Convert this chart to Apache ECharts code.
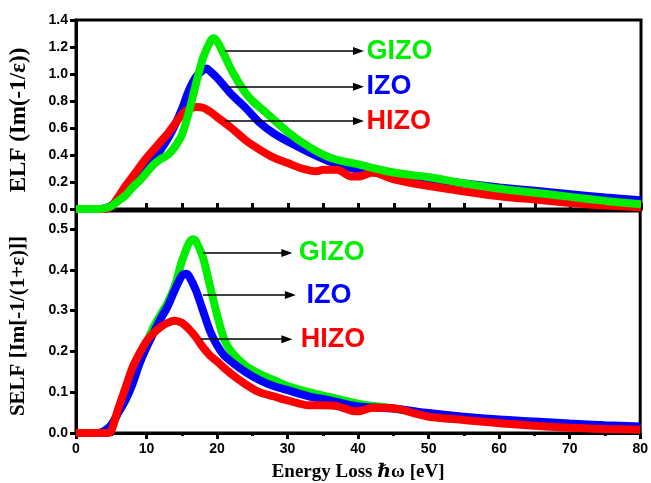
<!DOCTYPE html>
<html><head><meta charset="utf-8">
<script src="https://cdn.jsdelivr.net/npm/echarts@6/dist/echarts.min.js"></script>
<style>html,body{margin:0;padding:0;background:#fff}#c{width:651px;height:483px}</style>
</head><body><div id="c"></div>
<script>
// ---- ELF (top panel) ----
const elfGizoX = [0,3,4,5,6,7,8,9,10,11,12,13,14,15,16,17,18,19,19.5,20,21,22,23,24,25,27,30,33,36,40,45,50,55,60,65,70,75,80];
const elfGizoY = [0,0,0.005,0.02,0.06,0.1,0.16,0.21,0.27,0.33,0.37,0.40,0.46,0.55,0.72,0.93,1.12,1.24,1.265,1.24,1.14,1.03,0.94,0.86,0.80,0.71,0.57,0.46,0.38,0.33,0.27,0.235,0.19,0.15,0.12,0.09,0.06,0.035];
const elfIzoX = [0,3,4,5,6,7,8,9,10,11,12,13,14,15,16,17,18,18.5,19,20,21,22,24,26,28,30,33,36,40,45,50,55,60,65,70,75,80];
const elfIzoY = [0,0,0.005,0.025,0.07,0.13,0.19,0.25,0.31,0.37,0.44,0.52,0.62,0.74,0.88,0.98,1.03,1.04,1.02,0.97,0.91,0.85,0.75,0.64,0.56,0.50,0.42,0.35,0.29,0.25,0.22,0.19,0.16,0.135,0.11,0.085,0.065];
const elfHizoX = [0,4,5,6,7,8,9,10,11,12,13,14,15,16,17,18,19,20,22,24,26,28,30,32,34,35,37,39,40,42,45,50,55,60,65,70,75,80];
const elfHizoY = [0,0,0.02,0.09,0.17,0.24,0.31,0.38,0.44,0.50,0.56,0.63,0.70,0.74,0.755,0.75,0.72,0.68,0.60,0.51,0.44,0.38,0.34,0.30,0.28,0.29,0.29,0.24,0.24,0.27,0.22,0.17,0.13,0.095,0.07,0.045,0.025,0.012];

// ---- SELF (bottom panel) ----
const selfGizoX = [0,3,4,5,6,7,8,9,10,11,12,13,14,15,16,16.6,17,18,19,20,21,22,24,26,28,30,33,36,40,45,50,55,60,65,70,75,80];
const selfGizoY = [0,0,0.005,0.02,0.05,0.08,0.12,0.17,0.22,0.26,0.29,0.32,0.36,0.42,0.465,0.475,0.47,0.43,0.36,0.29,0.23,0.20,0.165,0.145,0.13,0.115,0.10,0.088,0.072,0.06,0.047,0.038,0.031,0.025,0.02,0.016,0.013];
const selfIzoX = [0,3,4,5,6,7,8,9,10,11,12,13,14,15,15.6,16,17,18,19,20,21,22,24,26,28,30,33,36,40,45,50,55,60,65,70,75,80];
const selfIzoY = [0,0,0.005,0.02,0.05,0.08,0.12,0.17,0.21,0.245,0.28,0.31,0.35,0.385,0.39,0.385,0.35,0.30,0.25,0.215,0.19,0.175,0.15,0.13,0.115,0.105,0.09,0.08,0.065,0.06,0.049,0.04,0.033,0.028,0.023,0.019,0.016];
const selfHizoX = [0,4.5,5,6,7,8,9,10,11,12,13,14,15,16,17,18,19,20,22,24,26,28,30,33,35,37,39,40,42,44,46,48,50,55,60,65,70,75,80];
const selfHizoY = [0,0,0.005,0.06,0.11,0.16,0.195,0.225,0.245,0.26,0.27,0.275,0.27,0.255,0.235,0.21,0.19,0.175,0.145,0.12,0.10,0.09,0.08,0.068,0.068,0.066,0.055,0.053,0.062,0.062,0.058,0.048,0.04,0.032,0.024,0.018,0.013,0.01,0.008];

// tick labels / annotation texts
const elfTicks = ['0.0','0.2','0.4','0.6','0.8','1.0','1.2','1.4'];
const selfTicks = ['0.0','0.1','0.2','0.3','0.4','0.5'];
const energyTicks = ['0','10','20','30','40','50','60','70','80'];
const sampleNames = ['GIZO','IZO','HIZO'];
const sampleColors = ['#00ee00','#0000ff','#ff0000'];
// annotation arrows in data units: [xStart, xEnd, y]
const elfArrows = [[21.1,40.0,1.17],[21.4,40.0,0.906],[21.1,40.0,0.651]];
const selfArrows = [[18.0,29.9,0.441],[18.0,30.4,0.338],[17.6,29.9,0.230]];
const selfLabelGap = [12,16,14];

const zip = (xs, ys) => xs.map((x,i)=>[x, ys[i]]);

const lbl = {fontFamily:'Liberation Sans, Arial, sans-serif', fontWeight:'bold', fontSize:14, color:'#000'};

function arrowLine(arr, idx, gap, axisIdx){
  const a = arr[idx];
  return {
    type:'line', xAxisIndex: axisIdx, yAxisIndex: axisIdx, data: [], silent:true,
    markLine: {
      silent:true, animation:false, symbol:['none','triangle'], symbolSize:[8,11],
      lineStyle:{color:'#000', width:1.5, type:'solid'},
      label:{show:true, position:'end', distance:gap, formatter:sampleNames[idx], color:sampleColors[idx],
             fontFamily:'Liberation Sans, Arial, sans-serif', fontWeight:'bold', fontSize:27},
      emphasis:{disabled:true},
      data:[[{coord:[a[0],a[2]]},{coord:[a[1],a[2]]}]]
    }
  };
}

const lw = 8;
const series = [
  {type:'line', xAxisIndex:0, yAxisIndex:0, data:zip(elfIzoX, elfIzoY), showSymbol:false, smooth:0.3, lineStyle:{color:sampleColors[1], width:lw}, itemStyle:{color:sampleColors[1]}},
  {type:'line', xAxisIndex:0, yAxisIndex:0, data:zip(elfHizoX, elfHizoY), showSymbol:false, smooth:0.3, lineStyle:{color:sampleColors[2], width:lw}, itemStyle:{color:sampleColors[2]}},
  {type:'line', xAxisIndex:0, yAxisIndex:0, data:zip(elfGizoX, elfGizoY), showSymbol:false, smooth:0.3, lineStyle:{color:sampleColors[0], width:lw}, itemStyle:{color:sampleColors[0]}},
  {type:'line', xAxisIndex:1, yAxisIndex:1, data:zip(selfGizoX, selfGizoY), showSymbol:false, smooth:0.3, lineStyle:{color:sampleColors[0], width:lw}, itemStyle:{color:sampleColors[0]}},
  {type:'line', xAxisIndex:1, yAxisIndex:1, data:zip(selfIzoX, selfIzoY), showSymbol:false, smooth:0.3, lineStyle:{color:sampleColors[1], width:lw}, itemStyle:{color:sampleColors[1]}},
  {type:'line', xAxisIndex:1, yAxisIndex:1, data:zip(selfHizoX, selfHizoY), showSymbol:false, smooth:0.3, lineStyle:{color:sampleColors[2], width:lw}, itemStyle:{color:sampleColors[2]}},
];
for (let i=0;i<3;i++){ series.push(arrowLine(elfArrows, i, 8, 0)); }
for (let i=0;i<3;i++){ series.push(arrowLine(selfArrows, i, selfLabelGap[i], 1)); }

const chart = echarts.init(document.getElementById('c'), null, {renderer:'canvas'});
chart.setOption({
  animation:false,
  backgroundColor:'#fff',
  grid:[
    {left:76, right:10, top:20, height:189, show:true, borderColor:'#000', borderWidth:3, backgroundColor:'transparent'},
    {left:76, right:10, top:211, height:222, show:true, borderColor:'#000', borderWidth:3, backgroundColor:'transparent'}
  ],
  xAxis:[
    {type:'value', gridIndex:0, min:0, max:80, interval:5,
     axisLine:{lineStyle:{color:'#000', width:3}}, axisLabel:{show:false},
     axisTick:{show:true, inside:true, length:6, lineStyle:{color:'#000', width:3}}, splitLine:{show:false}},
    {type:'value', gridIndex:1, min:0, max:80, interval:10,
     axisLine:{lineStyle:{color:'#000', width:3}},
     axisLabel:Object.assign({margin:9, formatter:(v)=>energyTicks[Math.round(v/10)]}, lbl),
     axisTick:{show:true, length:6, lineStyle:{color:'#000', width:3}},
     minorTick:{show:true, splitNumber:2, length:3, lineStyle:{color:'#000', width:3}},
     splitLine:{show:false},
     name:'Energy Loss \u210F\u03C9 [eV]', nameLocation:'middle', nameGap:30,
     nameTextStyle:{fontFamily:'Liberation Serif, DejaVu Serif, serif', fontWeight:'bold', fontSize:19, color:'#000'}}
  ],
  yAxis:[
    {type:'value', gridIndex:0, min:0, max:1.4, interval:0.2,
     axisLine:{show:true, lineStyle:{color:'#000', width:3}},
     axisLabel:Object.assign({margin:8, formatter:(v)=>elfTicks[Math.round(v/0.2)]}, lbl),
     axisTick:{show:true, length:6, lineStyle:{color:'#000', width:3}}, splitLine:{show:false}},
    {type:'value', gridIndex:1, min:0, max:0.544, interval:0.1,
     axisLine:{show:true, lineStyle:{color:'#000', width:3}},
     axisLabel:Object.assign({margin:8, showMaxLabel:false, formatter:(v)=>selfTicks[Math.round(v/0.1)] || ''}, lbl),
     axisTick:{show:true, length:6, lineStyle:{color:'#000', width:3}}, splitLine:{show:false}}
  ],
  graphic:[
    {type:'text', x:19, y:120, rotation:Math.PI/2, style:{text:'ELF (Im(-1/\u03B5))', textAlign:'center', textVerticalAlign:'middle', fontFamily:'Liberation Serif, DejaVu Serif, serif', fontWeight:'bold', fontSize:23, fill:'#000'}},
    {type:'text', x:19, y:326, rotation:Math.PI/2, style:{text:'SELF [Im[-1/(1+\u03B5)]]', textAlign:'center', textVerticalAlign:'middle', fontFamily:'Liberation Serif, DejaVu Serif, serif', fontWeight:'bold', fontSize:21, fill:'#000'}}
  ],
  series: series
});
</script></body></html>
